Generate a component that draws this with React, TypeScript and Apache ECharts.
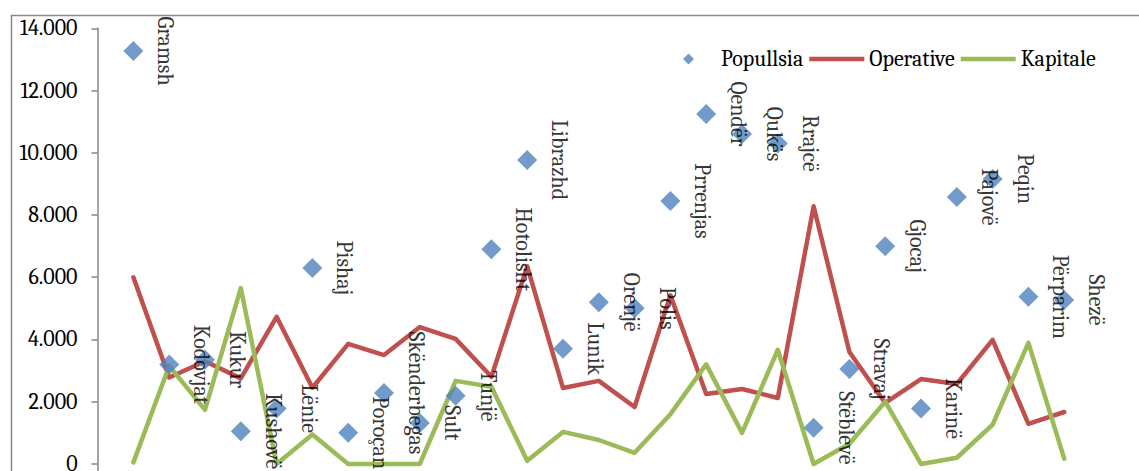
import React, { useEffect, useRef } from 'react';
import * as echarts from 'echarts';

const categories = [
  'Gramsh', 'Kodovjat', 'Kukur', 'Kushovë', 'Lënie', 'Pishaj', 'Poroçan', 'Skënderbegas', 'Sult', 'Tunjë',
  'Hotolisht', 'Librazhd', 'Lunik', 'Orenjë', 'Polis', 'Prrenjas', 'Qendër', 'Qukës', 'Rrajcë', 'Stëblevë',
  'Stravaj', 'Gjocaj', 'Karinë', 'Pajovë', 'Peqin', 'Përparim', 'Shezë',
];

const popullsia = [
  13270, 3200, 3350, 1050, 1780, 6300, 1000, 2280, 1320, 2190,
  6900, 9770, 3700, 5200, 5000, 8450, 11250, 10600, 10300, 1160,
  3050, 7000, 1780, 8580, 9160, 5370, 5270,
];

const operative = [
  6000, 2780, 3300, 2750, 4730, 2450, 3860, 3500, 4400, 4020,
  2800, 6350, 2440, 2670, 1830, 5420, 2250, 2410, 2120, 8280,
  3600, 1960, 2730, 2570, 3990, 1290, 1670,
];

const kapitale = [
  50, 3150, 1740, 5650, 0, 950, 0, 0, 0, 2670,
  2480, 100, 1030, 770, 360, 1600, 3200, 1000, 3670, 0,
  650, 2000, 0, 200, 1260, 3890, 170,
];

const seriesNames = ['Popullsia', 'Operative', 'Kapitale'];
const yMin = -2000;
const yMax = 14000;
const yStep = 2000;

const FONT = "Cambria, 'Liberation Serif', serif";

const fmt = (v: number) => {
  if (v < 0) return '';
  if (v < 1000) return String(v);
  return `${Math.floor(v / 1000)}.${String(v % 1000).padStart(3, '0')}`;
};

export default function App() {
  const ref = useRef<HTMLDivElement>(null);
  useEffect(() => {
    if (!ref.current) return;
    const chart = echarts.init(ref.current, undefined, { renderer: 'svg' });
    chart.setOption({
      animation: false,
      backgroundColor: '#ffffff',
      graphic: [
        {
          type: 'rect',
          shape: { x: 11.5, y: 15.5, width: 1400, height: 700 },
          style: { fill: 'none', stroke: '#868686', lineWidth: 1.5 },
          z: -1,
        },
      ],
      grid: { left: 115.5, width: 966.6, top: 28.3, height: 497.9, containLabel: false },
      legend: {
        left: 678,
        top: 43,
        itemGap: 6,
        itemWidth: 55,
        itemHeight: 11,
        textStyle: { fontFamily: FONT, fontSize: 22, color: '#000' },
        data: [
          { name: seriesNames[0], icon: 'path://M5,0L10,5L5,10L0,5Z' },
          { name: seriesNames[1], icon: 'path://M0,0L110,0L110,9L0,9Z' },
          { name: seriesNames[2], icon: 'path://M0,0L110,0L110,9L0,9Z' },
        ],
      },
      xAxis: {
        type: 'category',
        data: categories,
        boundaryGap: true,
        show: false,
      },
      yAxis: {
        type: 'value',
        min: yMin,
        max: yMax,
        interval: yStep,
        offset: 18,
        splitLine: { show: false },
        axisLine: { show: true, lineStyle: { color: '#868686', width: 1.5 } },
        axisTick: { show: true, inside: false, length: 6, lineStyle: { color: '#868686', width: 1.5 } },
        axisLabel: {
          margin: 20,
          formatter: fmt,
          fontFamily: FONT,
          fontSize: 22,
          color: '#000',
        },
      },
      series: [
        {
          name: seriesNames[1],
          type: 'line',
          data: operative,
          showSymbol: false,
          symbol: 'none',
          color: '#C0504D',
          lineStyle: { color: '#C0504D', width: 4.5, cap: 'round', join: 'round' },
          z: 2,
        },
        {
          name: seriesNames[2],
          type: 'line',
          data: kapitale,
          showSymbol: false,
          symbol: 'none',
          color: '#9BBB59',
          lineStyle: { color: '#9BBB59', width: 4.5, cap: 'round', join: 'round' },
          z: 2,
        },
        {
          name: seriesNames[0],
          type: 'scatter',
          data: popullsia,
          symbol: 'diamond',
          symbolSize: 20,
          color: '#4F81BD',
          itemStyle: { color: '#4F81BD' },
          z: 3,
          label: {
            show: true,
            formatter: '{b}',
            position: [42, 10],
            align: 'center',
            verticalAlign: 'middle',
            rotate: -90,
            fontFamily: FONT,
            fontSize: 22,
            color: '#000',
          },
          labelLayout: { hideOverlap: false },
        },
      ],
    });
    return () => chart.dispose();
  }, []);
  return (
    <div
      ref={ref}
      style={{ position: 'fixed', left: 0, top: 0, width: 1139, height: 540, background: '#fff' }}
    />
  );
}
